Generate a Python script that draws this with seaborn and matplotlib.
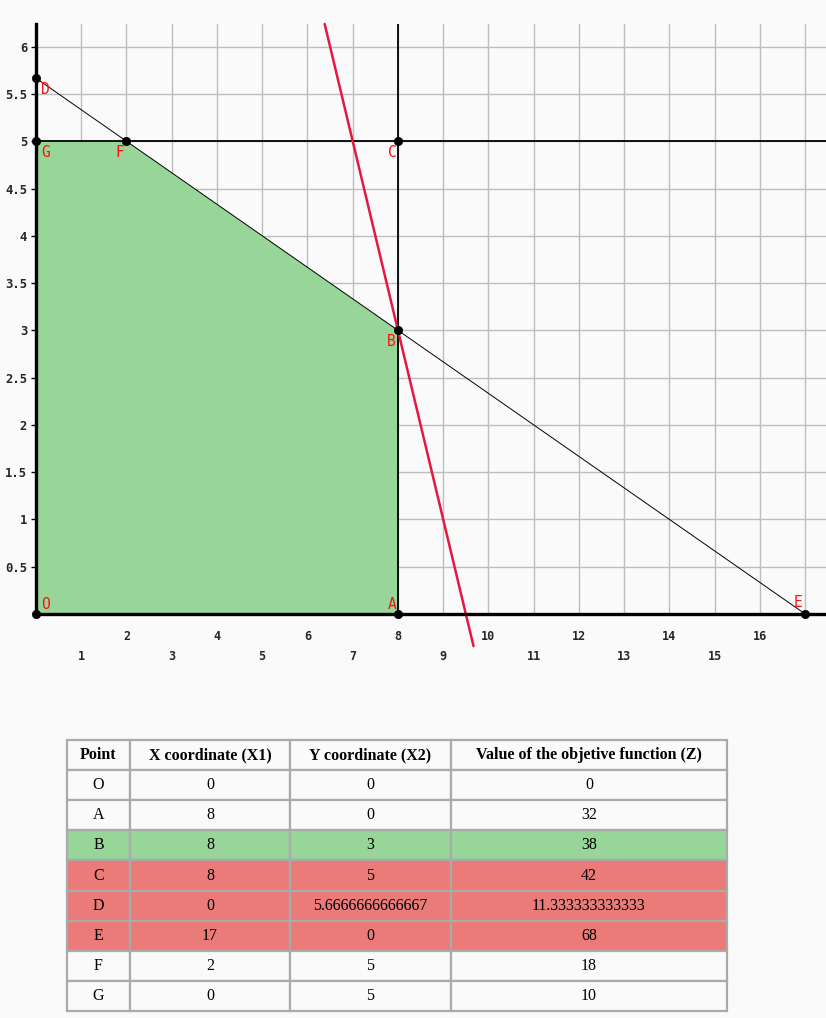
import numpy as np
import pandas as pd
import matplotlib
matplotlib.use("Agg")
import matplotlib.pyplot as plt
import seaborn as sns

# ---------------- data ----------------
point_names = ["O", "A", "B", "C", "D", "E", "F", "G"]
x_coords = [0, 8, 8, 8, 0, 17, 2, 0]
y_coords = [0, 0, 3, 5, 5.6666666666667, 0, 5, 5]
z_values = [0, 32, 38, 42, 11.333333333333, 68, 18, 10]
row_status = ["none", "none", "best", "bad", "bad", "bad", "none", "none"]
feasible_vertices = ["O", "A", "B", "F", "G"]
col_labels = ["Point", "X coordinate (X1)", "Y coordinate (X2)", "Value of the objetive function (Z)"]
obj_coef = [4, 2]          # Z = 4*X1 + 2*X2
x_major = [2, 4, 6, 8, 10, 12, 14, 16]
x_minor = [1, 3, 5, 7, 9, 11, 13, 15, 17]
y_ticks = [0.5, 1, 1.5, 2, 2.5, 3, 3.5, 4, 4.5, 5, 5.5, 6]
label_offsets = {"O": (7, 7), "A": (-4, 7), "B": (-5, -8), "C": (-4, -8),
                 "D": (7, -8), "E": (-5, 8), "F": (-5, -8), "G": (7, -8)}

XMAX, YMAX = 17.46, 6.24
BG = "#fafafa"
GREEN = "#98d598"
RED = "#ea7b78"

df = pd.DataFrame({"name": point_names, "x": x_coords, "y": y_coords, "z": z_values})
pt = df.set_index("name")

sns.set_style("white")
plt.rcParams["font.family"] = ["DejaVu Sans Mono", "DejaVu Sans"]

fig = plt.figure(figsize=(8.26, 10.18), dpi=100, facecolor=BG)
ax = fig.add_axes([36 / 826, 1 - 614 / 1018, 1 - 36 / 826, (614 - 24) / 1018])
ax.set_facecolor(BG)
ax.set_xlim(0, XMAX)
ax.set_ylim(0, YMAX)

# grid
ax.set_axisbelow(True)
ax.set_xticks(x_major)
ax.set_xticks(x_minor, minor=True)
ax.set_yticks(y_ticks)
ax.grid(True, which="both", color="#bdbdbd", linewidth=1.0)

# feasible region
poly = pt.loc[feasible_vertices]
ax.fill(poly["x"], poly["y"], color=GREEN, zorder=1, linewidth=0)

# constraint lines
ln_v = pd.DataFrame({"x": [pt.loc["A", "x"], pt.loc["A", "x"]], "y": [0, YMAX]})
sns.lineplot(data=ln_v, x="x", y="y", estimator=None, sort=False, color="black", linewidth=1.3, ax=ax, zorder=3)
ln_h = pd.DataFrame({"x": [0, XMAX], "y": [pt.loc["G", "y"], pt.loc["G", "y"]]})
sns.lineplot(data=ln_h, x="x", y="y", estimator=None, sort=False, color="black", linewidth=1.3, ax=ax, zorder=3)
ln_de = pt.loc[["D", "E"]]
sns.lineplot(data=ln_de, x="x", y="y", estimator=None, sort=False, color="black", linewidth=0.7, ax=ax, zorder=3)

# objective iso-line through optimum B
zb = pt.loc["B", "z"]
iso_y = np.array([YMAX, -0.34])
iso_x = (zb - obj_coef[1] * iso_y) / obj_coef[0]
ax.plot(iso_x, iso_y, color="#e8173f", linewidth=1.8, clip_on=False, zorder=4)

# points
sns.scatterplot(data=df, x="x", y="y", color="black", s=36, edgecolor="black", ax=ax, zorder=6, clip_on=False)
for n in point_names:
    dx, dy = label_offsets[n]
    ax.annotate(n, (pt.loc[n, "x"], pt.loc[n, "y"]), xytext=(dx, dy), textcoords="offset points",
                ha="center", va="center", color="#ff1010", fontsize=10.5, zorder=7)

# spines
for s in ["top", "right"]:
    ax.spines[s].set_visible(False)
for s in ["left", "bottom"]:
    ax.spines[s].set_linewidth(2.4)
    ax.spines[s].set_color("black")
    ax.spines[s].set_zorder(5)

ax.set_xlabel("")
ax.set_ylabel("")
ax.set_xticklabels([str(v) for v in x_major], fontsize=8.5, fontweight="bold")
ax.set_xticklabels([str(v) if v != 17 else "" for v in x_minor], minor=True, fontsize=8.5, fontweight="bold")
ax.set_yticklabels([f"{v:g}" for v in y_ticks], fontsize=8.8, fontweight="bold")
ax.tick_params(axis="x", which="major", direction="inout", length=7.5, width=1, pad=8.0, color="black")
ax.tick_params(axis="x", which="minor", direction="inout", length=7.5, width=1, pad=22.5, color="black")
ax.tick_params(axis="y", direction="out", length=3.8, width=1, pad=2.5, color="black", left=True)

# ---------------- table ----------------
tax = fig.add_axes([67 / 826, 7 / 1018, 660 / 826, 271 / 1018])
tax.axis("off")
cell_text = [[n, f"{x:.14g}", f"{y:.14g}", f"{z:.14g}"] for n, x, y, z in zip(point_names, x_coords, y_coords, z_values)]
status_colors = {"none": BG, "best": GREEN, "bad": RED}
cell_colours = [[status_colors[s]] * 4 for s in row_status]
widths = np.array([63, 160, 161, 276]) / 660
tbl = tax.table(cellText=cell_text, colLabels=col_labels, cellColours=cell_colours,
                colColours=[BG] * 4, cellLoc="center", colWidths=list(widths), bbox=[0, 0, 1, 1])
tbl.auto_set_font_size(False)
for (r, c), cell in tbl.get_celld().items():
    cell.set_edgecolor("#aaaaaa")
    cell.set_linewidth(1.6)
    t = cell.get_text()
    t.set_fontfamily(["Liberation Serif", "DejaVu Serif"])
    t.set_fontsize(11.5)
    t.set_color("black")
    if r == 0:
        t.set_fontweight("bold")

fig.savefig("out.png", dpi=100, facecolor=BG)
